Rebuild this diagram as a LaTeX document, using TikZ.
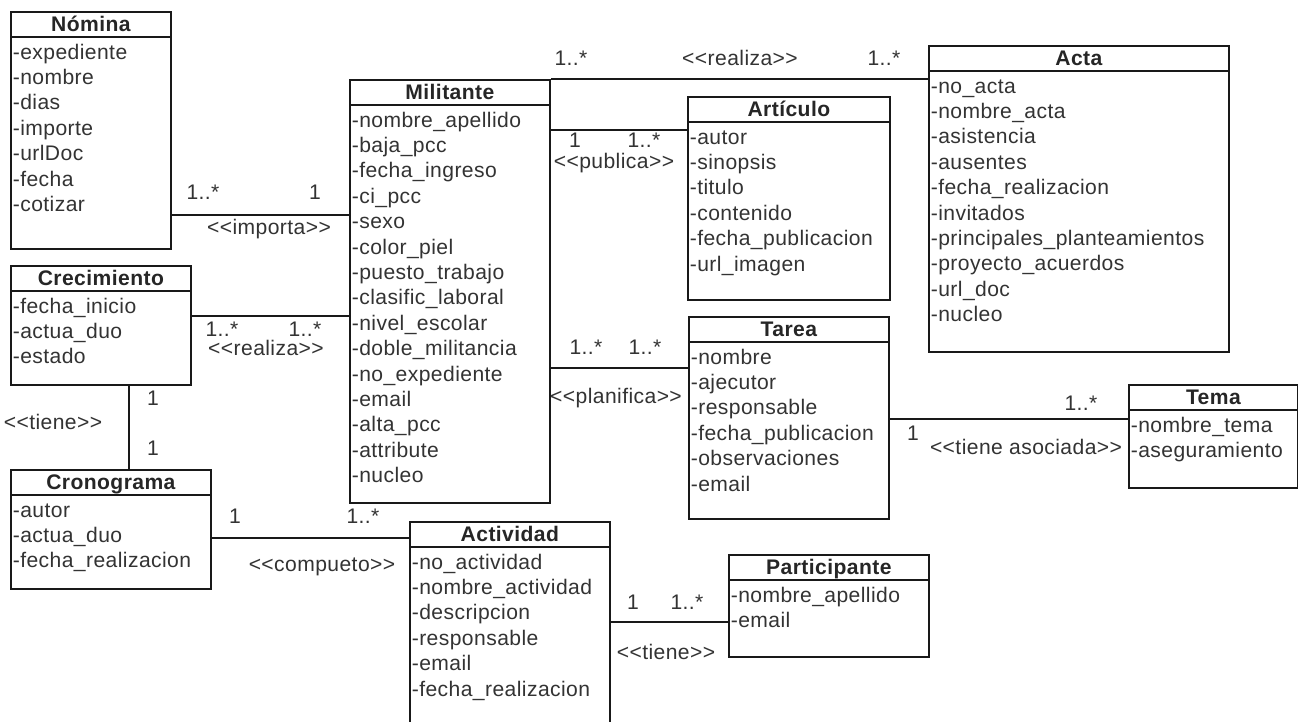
\documentclass[tikz,border=0pt,12pt]{standalone}
\usepackage{fontspec}
\setmainfont{Liberation Sans}[LetterSpace=2]
\usetikzlibrary{calc}
\tikzset{every path/.style={line width=1pt, black!90},
  clsbox/.style={draw, rectangle, anchor=north west, inner sep=0pt, fill=white},
  clstitle/.style={font=\bfseries, anchor=base, inner sep=0pt, text=black!85},
  clsattr/.style={anchor=base west, inner sep=0pt, text=black!80},
  lbl/.style={inner sep=0pt, text=black!80}}
\newcommand{\st}[1]{<{}<#1>{}>}
\newcommand{\umlclass}[7]{%
  \node[clsbox, minimum width=#4*0.02cm, minimum height=#5*0.02cm] (#1) at (#2,#3) {};
  \draw (#1.north west) ++(0,26) -- ++(#4,0);
  \node[clstitle] at ($(#1.north)+(0,20)$) {#6};
  \foreach \t [count=\i] in {#7}
    \node[clsattr] at ($(#1.north west)+(2,{48+25.4*(\i-1)})$) {-\t};
}

\begin{document}
\begin{tikzpicture}[x=0.02cm, y=-0.02cm]
   \fill[white] (0,0) rectangle (1298,721);
   \useasboundingbox (0,0) rectangle (1298,721);

   \umlclass{nom}{10}{11}{160}{237}{Nómina}{expediente,nombre,dias,importe,urlDoc,fecha,cotizar}
   \umlclass{mil}{349}{79}{200}{423}{Militante}{nombre\_apellido,baja\_pcc,fecha\_ingreso,ci\_pcc,sexo,color\_piel,puesto\_trabajo,clasific\_laboral,nivel\_escolar,doble\_militancia,no\_expediente,email,alta\_pcc,attribute,nucleo}
   \umlclass{art}{687}{96}{202}{203}{Artículo}{autor,sinopsis,titulo,contenido,fecha\_publicacion,url\_imagen}
   \umlclass{act}{928}{45}{300}{306}{Acta}{no\_acta,nombre\_acta,asistencia,ausentes,fecha\_realizacion,invitados,principales\_planteamientos,proyecto\_acuerdos,url\_doc,nucleo}
   \umlclass{tar}{688}{316}{200}{202}{Tarea}{nombre,ajecutor,responsable,fecha\_publicacion,observaciones,email}
   \umlclass{tem}{1128}{384}{169}{103}{Tema}{nombre\_tema,aseguramiento}
   \umlclass{cre}{10}{265}{180}{119}{Crecimiento}{fecha\_inicio,actua\_duo,estado}
   \umlclass{cro}{10}{469}{200}{119}{Cronograma}{autor,actua\_duo,fecha\_realizacion}
   \umlclass{acv}{409}{521}{200}{215}{Actividad}{no\_actividad,nombre\_actividad,descripcion,responsable,email,fecha\_realizacion}
   \umlclass{par}{728}{554}{200}{102}{Participante}{nombre\_apellido,email}

   \draw (nom.east |- 0,215) -- (mil.west |- 0,215);
   \node[lbl] (imp1) at (203,192) {1..*};
   \node[lbl] (imp2) at (315,192) {1};
   \node[lbl] (imp)  at (269,229) {\st{importa}};

   \draw (cre.east |- 0,316) -- (mil.west |- 0,316);
   \node[lbl] (rea1) at (222,329) {1..*};
   \node[lbl] (rea2) at (305,329) {1..*};
   \node[lbl] (rea)  at (266,348) {\st{realiza}};

   \draw (cre.south -| 129,0) -- (cro.north -| 129,0);
   \node[lbl] (tie1) at (153,398) {1};
   \node[lbl] (tie2) at (153,448) {1};
   \node[lbl] (tie)  at (53,422) {\st{tiene}};

   \draw (cro.east |- 0,538) -- (acv.west |- 0,538);
   \node[lbl] (com1) at (235,516) {1};
   \node[lbl] (com2) at (363,516) {1..*};
   \node[lbl] (com)  at (322,567) {\st{compueto}};

   \draw (mil.north east) -- (act.west |- mil.north east);
   \node[lbl] (rac1) at (571,58) {1..*};
   \node[lbl] (rac)  at (740,58) {\st{realiza}};
   \node[lbl] (rac2) at (884,58) {1..*};

   \draw (mil.east |- 0,130) -- (art.west |- 0,130);
   \node[lbl] (pub1) at (575,140) {1};
   \node[lbl] (pub2) at (644,140) {1..*};
   \node[lbl] (pub)  at (614,163) {\st{publica}};

   \draw (mil.east |- 0,368) -- (tar.west |- 0,368);
   \node[lbl] (pla1) at (586,347) {1..*};
   \node[lbl] (pla2) at (645,347) {1..*};
   \node[lbl] (pla)  at (616,398) {\st{planifica}};

   \draw (tar.east |- 0,419) -- (tem.west |- 0,419);
   \node[lbl] (aso1) at (913,433) {1};
   \node[lbl] (aso2) at (1081,403) {1..*};
   \node[lbl] (aso)  at (1026,447) {\st{tiene asociada}};

   \draw (acv.east |- 0,622) -- (par.west |- 0,622);
   \node[lbl] (par1) at (633,602) {1};
   \node[lbl] (par2) at (687,602) {1..*};
   \node[lbl] (tpa)  at (666,652) {\st{tiene}};
\end{tikzpicture}
\end{document}
